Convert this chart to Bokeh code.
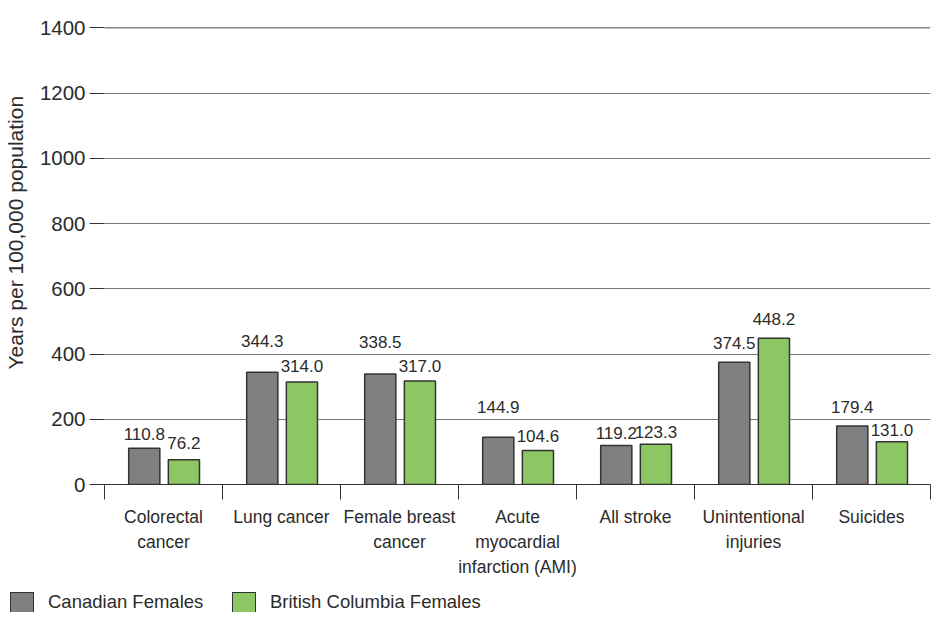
from bokeh.plotting import figure
from bokeh.layouts import column
from bokeh.models import FixedTicker, Span, Div
from bokeh.core.properties import value
from bokeh.embed import file_html
from bokeh.resources import INLINE

# ---- data ----
categories = ["Colorectal\ncancer", "Lung cancer", "Female breast\ncancer",
              "Acute\nmyocardial\ninfarction (AMI)", "All stroke",
              "Unintentional\ninjuries", "Suicides"]
canadian_females = [110.8, 344.3, 338.5, 144.9, 119.2, 374.5, 179.4]
bc_females = [76.2, 314.0, 317.0, 104.6, 123.3, 448.2, 131.0]
y_ticks = [0, 200, 400, 600, 800, 1000, 1200, 1400]
series_names = ["Canadian Females", "British Columbia Females"]
y_title = "Years per 100,000 population"

# ---- styling (label lift above bar top, px) ----
canadian_label_lift = [6, 23, 24, 22, 5, 11, 11]
bc_label_lift = [9, 8, 7, 6, 4, 11, 4]
BASE_LIFT = 8

GRAY = "#808080"
GREEN = "#8cc763"
EDGE = "#333333"
TEXT = "#2b2b2b"
REG = "Liberation Sans"
series_colors = [GRAY, GREEN]
legend_swatch_left = [10, 232]   # px within legend strip

n = len(categories)
centers = [2 * i + 1 for i in range(n)]
bounds = [2 * i for i in range(n + 1)]
gray_x = [2 * i + 0.674 for i in range(n)]
green_x = [2 * i + 1.346 for i in range(n)]
bar_w = 0.528

p = figure(width=932, height=586, x_range=(0, 2 * n), y_range=(0, 1401),
           output_backend="svg", toolbar_location=None,
           min_border_left=95, min_border_right=2, min_border_top=27,
           min_border_bottom=102)
p.outline_line_color = None
p.background_fill_color = "white"
p.border_fill_color = "white"

bar_style = dict(line_color=EDGE, line_width=1.5)
p.vbar(x=gray_x, top=canadian_females, width=bar_w, bottom=0, fill_color=GRAY, **bar_style)
p.vbar(x=green_x, top=bc_females, width=bar_w, bottom=0, fill_color=GREEN, **bar_style)

p.text(x=gray_x, y=canadian_females, text=[f"{v:.1f}" for v in canadian_females],
       y_offset=[-(d + BASE_LIFT) for d in canadian_label_lift],
       text_align="center", text_baseline="alphabetic",
       text_font=value(REG), text_font_size="17px", text_color=TEXT)
p.text(x=green_x, y=bc_females, text=[f"{v:.1f}" for v in bc_females],
       y_offset=[-(d + BASE_LIFT) for d in bc_label_lift],
       text_align="center", text_baseline="alphabetic",
       text_font=value(REG), text_font_size="17px", text_color=TEXT)

# y axis
p.yaxis.ticker = FixedTicker(ticks=y_ticks)
p.yaxis.axis_line_color = None
p.yaxis.major_tick_out = 15
p.yaxis.major_tick_in = 0
p.yaxis.minor_tick_line_color = None
p.yaxis.major_tick_line_color = EDGE
p.yaxis.major_label_standoff = 4
p.yaxis.major_label_text_font = REG
p.yaxis.major_label_text_font_size = "20.5px"
p.yaxis.major_label_text_color = TEXT
p.yaxis.axis_label = "\u00a0" * 8 + y_title
p.yaxis.axis_label_text_font = REG
p.yaxis.axis_label_text_font_size = "21px"
p.yaxis.axis_label_text_font_style = "normal"
p.yaxis.axis_label_text_color = TEXT
p.yaxis.axis_label_standoff = 10

# x axis
p.xaxis.ticker = FixedTicker(ticks=centers, minor_ticks=bounds)
p.xaxis.major_label_overrides = {c: lab for c, lab in zip(centers, categories)}
p.xaxis.axis_line_color = EDGE
p.xaxis.axis_line_width = 1.2
p.xaxis.major_tick_out = 0
p.xaxis.major_tick_in = 0
p.xaxis.minor_tick_out = 15
p.xaxis.minor_tick_in = 0
p.xaxis.minor_tick_line_color = EDGE
p.xaxis.major_label_standoff = 7
p.xaxis.major_label_text_font = REG
p.xaxis.major_label_text_font_size = "17.5px"
p.xaxis.major_label_text_line_height = 1.25
p.xaxis.major_label_text_color = TEXT

p.xgrid.grid_line_color = None
p.ygrid.grid_line_color = "#7a7a7a"
p.ygrid.grid_line_width = 1

p.add_layout(Span(location=y_ticks[-1], dimension="width", line_color=EDGE, line_width=1))

# ---- legend strip (HTML) ----
items_html = ""
for name, color, left in zip(series_names, series_colors, legend_swatch_left):
    items_html += (
        f'<span style="position:absolute;left:{left}px;top:6px;width:24px;height:24px;'
        f'box-sizing:border-box;background:{color};border:1.5px solid {EDGE};"></span>'
        f'<span style="position:absolute;left:{left + 38}px;top:7px;line-height:18.5px;'
        f'white-space:nowrap;">{name}</span>'
    )
legend_html = (
    f'<div style="position:relative;width:932px;height:26px;overflow:hidden;'
    f"font-family:'Liberation Sans',Arial,sans-serif;font-size:18.5px;color:{TEXT};\">"
    f"{items_html}</div>"
)
lg = Div(text=legend_html, width=932, height=26, margin=(0, 0, 0, 0))

layout = column(p, lg, spacing=0)
open("out.html", "w").write(file_html(layout, INLINE))
